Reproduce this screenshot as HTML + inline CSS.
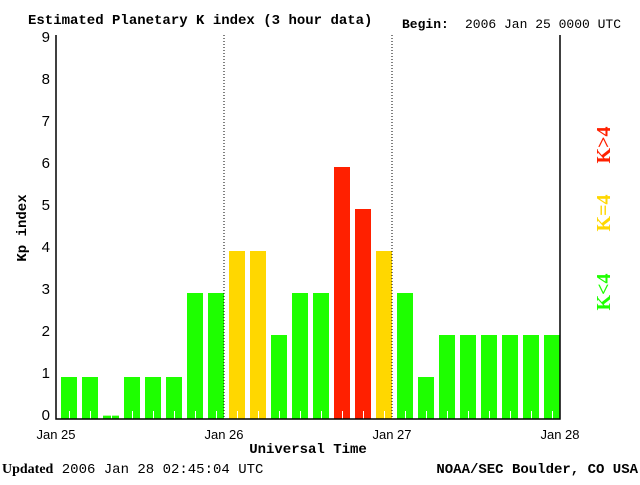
<!DOCTYPE html>
<html><head><meta charset="utf-8"><style>
body{margin:0;background:#fff;width:640px;height:480px;overflow:hidden}
</style></head><body>
<svg id="chart" width="640" height="480" viewBox="0 0 640 480">
<text x="28" y="24" font-size="14" font-family="Liberation Mono" font-weight="bold">Estimated Planetary K index (3 hour data)</text>
<text x="402" y="28" font-size="13" font-weight="bold" font-family="Liberation Mono">Begin:</text>
<text x="465" y="28" font-size="13" font-family="Liberation Mono">2006 Jan 25 0000 UTC</text>
<text transform="translate(26,228) rotate(-90)" text-anchor="middle" font-size="14" font-weight="bold" font-family="Liberation Mono">Kp index</text>
<text x="308" y="453" text-anchor="middle" font-size="14" font-weight="bold" font-family="Liberation Mono">Universal Time</text>
<text x="2" y="473" font-size="14" font-family="Liberation Mono"><tspan font-weight="bold" font-family="Liberation Serif">Updated</tspan> 2006 Jan 28 02:45:04 UTC</text>
<text x="638" y="473" text-anchor="end" font-size="14" font-weight="bold" font-family="Liberation Mono">NOAA/SEC Boulder, CO USA</text>
<g id="bars"></g>
<g id="axes"></g>
<text transform="translate(610,145) rotate(-90)" text-anchor="middle" font-size="20" font-weight="bold" fill="#ff2000" font-family="Liberation Serif">K&gt;4</text>
<text transform="translate(610,213) rotate(-90)" text-anchor="middle" font-size="20" font-weight="bold" fill="#ffd700" font-family="Liberation Serif">K=4</text>
<text transform="translate(610,292) rotate(-90)" text-anchor="middle" font-size="20" font-weight="bold" fill="#1eff00" font-family="Liberation Serif">K&lt;4</text>
</svg>
<script>
const kpValues=[1,1,0.08,1,1,1,3,3,4,4,2,3,3,6,5,4,3,1,2,2,2,2,2,2];
const yTicks=[0,1,2,3,4,5,6,7,8,9];
const dayLabels=["Jan 25","Jan 26","Jan 27","Jan 28"];
const NS='http://www.w3.org/2000/svg';
const x0=56,x1=560,yBase=419,unit=42,plotTop=35;
const slot=(x1-x0)/kpValues.length;
function xs(i){return x0+i*slot;}
function ys(v){return yBase-v*unit;}
function mk(t,a,p){const e=document.createElementNS(NS,t);for(const k in a)e.setAttribute(k,a[k]);p.appendChild(e);return e;}
const bars=document.getElementById('bars'),axes=document.getElementById('axes');
kpValues.forEach((v,i)=>{
 const c=v>4?'#ff2000':(v>=4?'#ffd700':'#1eff00');
 const r=mk('rect',{x:xs(i)+5,y:ys(v),width:16,height:yBase-ys(v),fill:c},bars);
 
 
 const t=mk('line',{x1:xs(i)+13.5,x2:xs(i)+13.5,y1:yBase-8,y2:yBase,stroke:'#fff','stroke-width':1},bars);
 
 
});
const ax=mk('path',{d:`M${x0},${plotTop} V${yBase} H${x1} V${plotTop}`,fill:'none',stroke:'#000','stroke-width':1.5},axes);


yTicks.forEach(v=>{
 const t=mk('text',{x:x0-6,y:ys(v)+1,'text-anchor':'end','font-size':15,'font-family':'Liberation Sans'},axes);
 t.textContent=v;
 
 
});
dayLabels.forEach((d,i)=>{
 const x=x0+i*(x1-x0)/3;
 const t=mk('text',{x:x,y:439,'text-anchor':'middle','font-size':13,'font-family':'Liberation Sans'},axes);
 t.textContent=d;
 
 
 if(i>0&&i<3){
  const l=mk('line',{x1:x,x2:x,y1:plotTop,y2:yBase,stroke:'#000','stroke-dasharray':'1,2'},axes);
  
  
 }
});
</script>
</body></html>
